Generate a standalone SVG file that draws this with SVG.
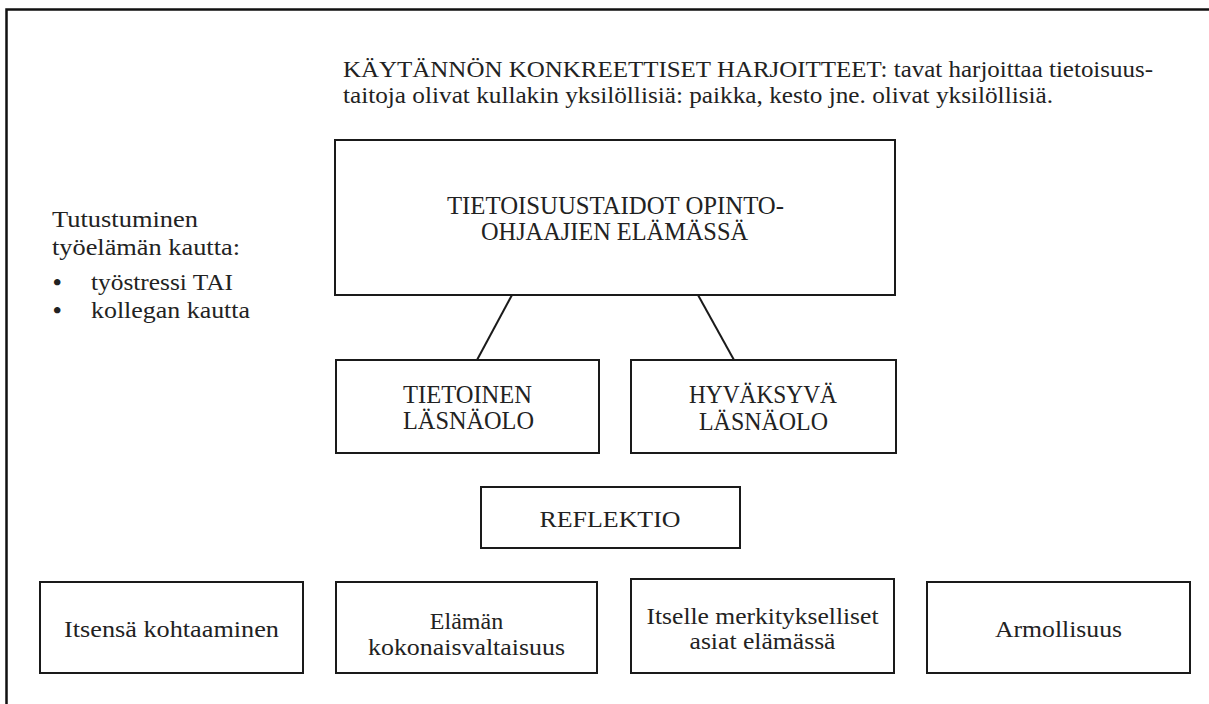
<svg xmlns="http://www.w3.org/2000/svg" width="1209" height="704" viewBox="0 0 1209 704">
<style>
.box{fill:#fff;stroke:#1a1a1a;stroke-width:2}
.frame{fill:none;stroke:#111;stroke-width:2.5}
.ln{stroke:#1a1a1a;stroke-width:2;fill:none}
text{font-family:"Liberation Serif","DejaVu Serif",serif;font-size:24px;fill:#222}
.c{text-anchor:middle}
.big{font-size:25px}
.bul{font-weight:bold}
</style>
<rect width="1209" height="704" fill="#fff"/>
<rect class="frame" x="6.5" y="9.5" width="1215" height="710"/>
<g id="intro">
<text x="343" y="77" textLength="810" lengthAdjust="spacingAndGlyphs">KÄYTÄNNÖN KONKREETTISET HARJOITTEET: tavat harjoittaa tietoisuus-</text>
<text x="343" y="103" textLength="710" lengthAdjust="spacingAndGlyphs">taitoja olivat kullakin yksilöllisiä: paikka, kesto jne. olivat yksilöllisiä.</text>
</g>
<g id="side">
<text x="52" y="227" textLength="146" lengthAdjust="spacingAndGlyphs">Tutustuminen</text>
<text x="52" y="255" textLength="188" lengthAdjust="spacingAndGlyphs">työelämän kautta:</text>
<text class="bul" x="53" y="290">•</text>
<text x="91" y="290" textLength="142" lengthAdjust="spacingAndGlyphs">työstressi TAI</text>
<text class="bul" x="53" y="318">•</text>
<text x="91" y="318" textLength="159" lengthAdjust="spacingAndGlyphs">kollegan kautta</text>
</g>
<g id="connectors">
<line class="ln" x1="512" y1="295" x2="477" y2="360"/>
<line class="ln" x1="698" y1="295" x2="734" y2="360"/>
</g>
<g id="main">
<rect class="box" x="335" y="140" width="560" height="155"/>
<text class="c big" x="615.5" y="214" textLength="337" lengthAdjust="spacingAndGlyphs">TIETOISUUSTAIDOT OPINTO-</text>
<text class="c big" x="614.5" y="240" textLength="267" lengthAdjust="spacingAndGlyphs">OHJAAJIEN ELÄMÄSSÄ</text>
</g>
<g id="tietoinen">
<rect class="box" x="336" y="360" width="263" height="93"/>
<text class="c big" x="467.5" y="403" textLength="129" lengthAdjust="spacingAndGlyphs">TIETOINEN</text>
<text class="c big" x="468.5" y="429" textLength="131" lengthAdjust="spacingAndGlyphs">LÄSNÄOLO</text>
</g>
<g id="hyvaksyva">
<rect class="box" x="631" y="360" width="265" height="93"/>
<text class="c big" x="763" y="403" textLength="148" lengthAdjust="spacingAndGlyphs">HYVÄKSYVÄ</text>
<text class="c big" x="763.5" y="430" textLength="129" lengthAdjust="spacingAndGlyphs">LÄSNÄOLO</text>
</g>
<g id="reflektio">
<rect class="box" x="481" y="487" width="259" height="61"/>
<text class="c" x="610" y="527" textLength="141" lengthAdjust="spacingAndGlyphs">REFLEKTIO</text>
</g>
<g id="itsensa">
<rect class="box" x="40" y="582" width="263" height="91"/>
<text class="c" x="171.5" y="637" textLength="215" lengthAdjust="spacingAndGlyphs">Itsensä kohtaaminen</text>
</g>
<g id="elaman">
<rect class="box" x="336" y="582" width="261" height="91"/>
<text class="c" x="466.5" y="629">Elämän</text>
<text class="c" x="466.5" y="655" textLength="197" lengthAdjust="spacingAndGlyphs">kokonaisvaltaisuus</text>
</g>
<g id="itselle">
<rect class="box" x="631" y="579" width="263" height="94"/>
<text class="c" x="762.5" y="624" textLength="232" lengthAdjust="spacingAndGlyphs">Itselle merkitykselliset</text>
<text class="c" x="762.5" y="649" textLength="146" lengthAdjust="spacingAndGlyphs">asiat elämässä</text>
</g>
<g id="armollisuus">
<rect class="box" x="927" y="582" width="263" height="91"/>
<text class="c" x="1058.5" y="637" textLength="127" lengthAdjust="spacingAndGlyphs">Armollisuus</text>
</g>
</svg>
